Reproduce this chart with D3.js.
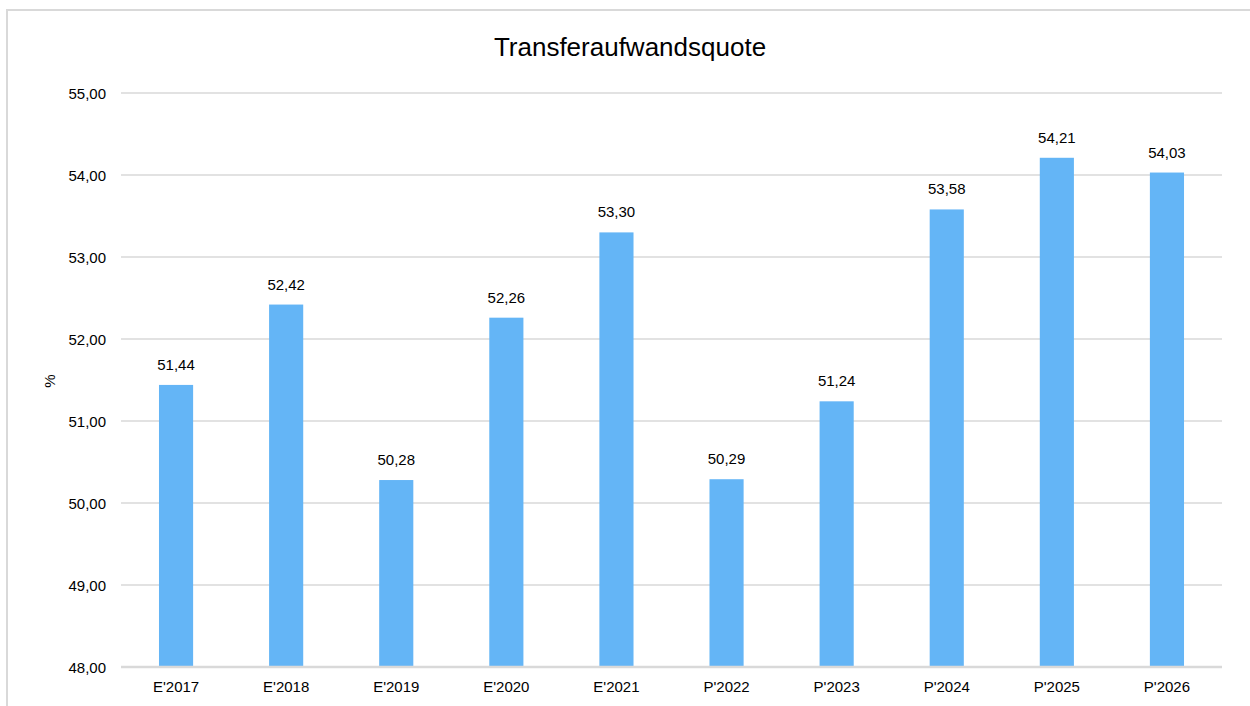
<!DOCTYPE html>
<html>
<head>
<meta charset="utf-8">
<script src="https://cdn.jsdelivr.net/npm/d3@7"></script>
<style>
  body { margin: 0; background: #fff; }
  svg text { font-family: "Liberation Sans", Arial, sans-serif; fill: #000; }
</style>
</head>
<body>
<svg id="chart" width="1250" height="706"></svg>
<script>
var categories = ["E'2017", "E'2018", "E'2019", "E'2020", "E'2021", "P'2022", "P'2023", "P'2024", "P'2025", "P'2026"];
var values = [51.44, 52.42, 50.28, 52.26, 53.30, 50.29, 51.24, 53.58, 54.21, 54.03];
var yTicks = [48, 49, 50, 51, 52, 53, 54, 55];

var svg = d3.select("#chart");
var fmt = function(v){ return v.toFixed(2).replace(".", ","); };

// chart frame
svg.append("rect")
	.attr("x", 7).attr("y", 10)
	.attr("width", 1260).attr("height", 720)
	.attr("fill", "#fff")
	.attr("stroke", "#d9d9d9")
	.attr("stroke-width", 2);

var plotLeft = 121, plotRight = 1222, plotTop = 93, plotBottom = 667;

var x = d3.scaleBand()
	.domain(categories)
	.range([plotLeft, plotRight])
	.paddingInner(0.69)
	.paddingOuter(0.345);
var y = d3.scaleLinear()
	.domain([48, 55])
	.range([plotBottom, plotTop]);

// gridlines
svg.append("g")
	.selectAll("line")
	.data(yTicks.slice(1))
	.enter()
		.append("line")
		.attr("x1", plotLeft).attr("x2", plotRight)
		.attr("y1", function(d){ return y(d); })
		.attr("y2", function(d){ return y(d); })
		.attr("stroke", "#d9d9d9")
		.attr("stroke-width", 1.5);

// y tick labels
svg.append("g")
	.selectAll("text")
	.data(yTicks)
	.enter()
		.append("text")
		.attr("x", 106)
		.attr("y", function(d){ return y(d) + 5.5; })
		.attr("text-anchor", "end")
		.attr("font-size", 15)
		.text(fmt);

// bars
svg.append("g")
	.selectAll("rect")
	.data(values)
	.enter()
		.append("rect")
		.attr("x", function(d, i){ return x(categories[i]); })
		.attr("y", function(d){ return y(d); })
		.attr("width", x.bandwidth())
		.attr("height", function(d){ return y(48) - y(d); })
		.attr("fill", "#64b5f6");

// value labels
svg.append("g")
	.selectAll("text")
	.data(values)
	.enter()
		.append("text")
		.attr("x", function(d, i){ return x(categories[i]) + x.bandwidth() / 2; })
		.attr("y", function(d){ return y(d) - 15; })
		.attr("text-anchor", "middle")
		.attr("font-size", 15)
		.text(fmt);

// x axis line
svg.append("line")
	.attr("x1", plotLeft).attr("x2", plotRight)
	.attr("y1", plotBottom).attr("y2", plotBottom)
	.attr("stroke", "#d9d9d9")
	.attr("stroke-width", 2.5);

// x labels
svg.append("g")
	.selectAll("text")
	.data(categories)
	.enter()
		.append("text")
		.attr("x", function(d){ return x(d) + x.bandwidth() / 2; })
		.attr("y", 692)
		.attr("text-anchor", "middle")
		.attr("font-size", 15)
		.text(function(d){ return d; });

// y axis title
svg.append("text")
	.attr("transform", "translate(55,381) rotate(-90)")
	.attr("text-anchor", "middle")
	.attr("font-size", 15)
	.text("%");

// title
svg.append("text")
	.attr("x", 630).attr("y", 56)
	.attr("text-anchor", "middle")
	.attr("font-size", 26)
	.text("Transferaufwandsquote");
</script>
</body>
</html>
